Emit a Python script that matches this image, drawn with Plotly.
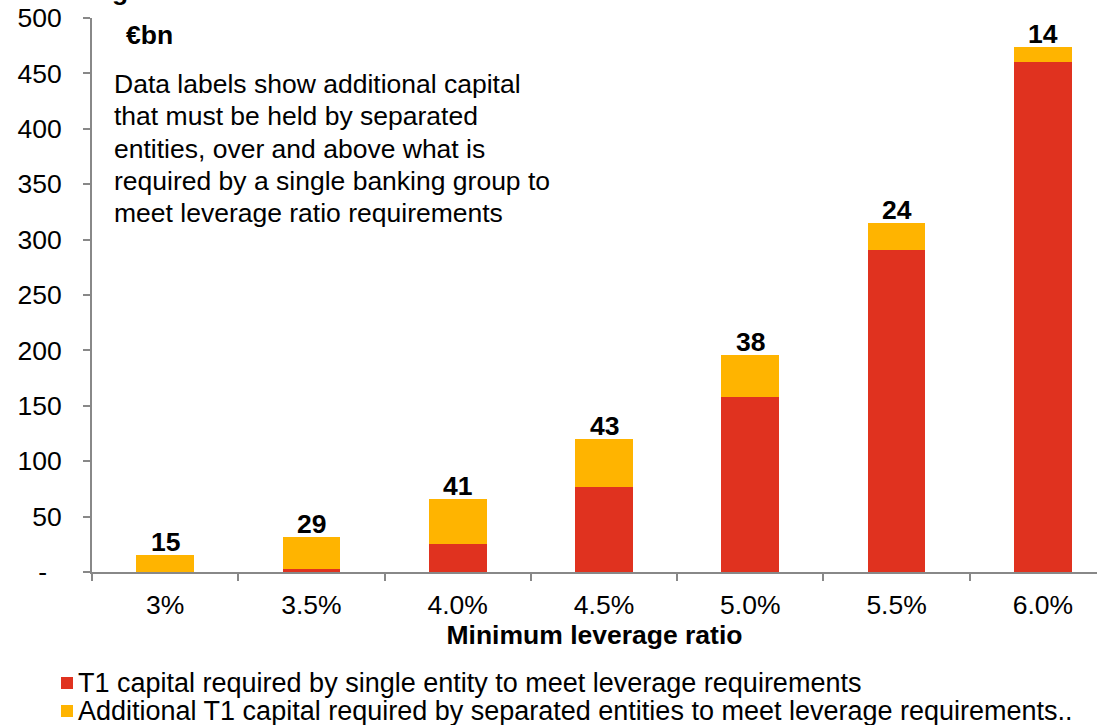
import plotly.graph_objects as go

# Minimum leverage ratio scenarios
categories = ["3%", "3.5%", "4.0%", "4.5%", "5.0%", "5.5%", "6.0%"]
# T1 capital required by a single entity (EUR bn)
single_entity = [0, 3, 25, 77, 158, 291, 460]
# Additional T1 capital required by separated entities (EUR bn)
additional = [15, 29, 41, 43, 38, 24, 14]

series_names = [
    "T1 capital required by single entity to meet leverage requirements",
    "Additional T1 capital required by separated entities to meet leverage requirements..",
]

note_lines = [
    "Data labels show additional capital",
    "that must be held by separated",
    "entities, over and above what is",
    "required by a single banking group to",
    "meet leverage ratio requirements",
]

y_tickvals = [0, 50, 100, 150, 200, 250, 300, 350, 400, 450, 500]
y_ticktext = ["-\u00a0\u00a0", "50", "100", "150", "200", "250", "300",
              "350", "400", "450", "500"]

RED = "#E0321F"
YELLOW = "#FFB400"
FONT = "Liberation Sans, Arial, sans-serif"
FS = 26.5

# plot-area geometry in pixels (used to place the notes and key)
W, H = 1097, 725
M_L, M_R, M_T, M_B = 92, 0, 18, 153
PW, PH = W - M_L - M_R, H - M_T - M_B


def px_to_paper(xp, yp):
    return (xp - M_L) / PW, (H - M_B - yp) / PH


fig = go.Figure()
for vals, name, col in zip([single_entity, additional], series_names, [RED, YELLOW]):
    fig.add_trace(go.Bar(
        x=categories, y=vals, name=name,
        marker=dict(color=col, line=dict(width=0)), width=0.395,
        showlegend=False,
    ))

# value labels above each stack
totals = [a + b for a, b in zip(single_entity, additional)]
for cat, tot, add in zip(categories, totals, additional):
    fig.add_annotation(x=cat, y=tot, text=f"<b>{add}</b>", showarrow=False,
                       yanchor="bottom", yshift=-4,
                       font=dict(family=FONT, size=FS, color="black"))

# chart heading (only its lowest part falls inside the page)
hx, hy = px_to_paper(110, 8)
fig.add_annotation(xref="paper", yref="paper", x=hx, y=hy, xanchor="left", yanchor="bottom",
                   text="<b>g</b>", showarrow=False,
                   font=dict(family=FONT, size=FS, color="black"))

ux, uy = px_to_paper(124, 35)
fig.add_annotation(xref="paper", yref="paper", x=ux, y=uy, xanchor="left", yanchor="middle",
                   text="<b>€bn</b>", showarrow=False,
                   font=dict(family=FONT, size=FS, color="black"))

for i, line in enumerate(note_lines):
    nx, ny = px_to_paper(112, 84 + 32.25 * i)
    fig.add_annotation(xref="paper", yref="paper", x=nx, y=ny, xanchor="left", yanchor="middle",
                       align="left", showarrow=False, text=line,
                       font=dict(family=FONT, size=FS, color="black"))

# key below the chart: coloured square followed by the series name
for i, (name, col) in enumerate(zip(series_names, [RED, YELLOW])):
    cy = 683 + 28 * i
    x0, y0 = px_to_paper(61, cy + 6)
    x1, y1 = px_to_paper(73, cy - 6)
    fig.add_shape(type="rect", xref="paper", yref="paper", x0=x0, x1=x1, y0=y0, y1=y1,
                  fillcolor=col, line=dict(width=0))
    tx, ty = px_to_paper(76, cy)
    fig.add_annotation(xref="paper", yref="paper", x=tx, y=ty, xanchor="left", yanchor="middle",
                       text=name, showarrow=False,
                       font=dict(family=FONT, size=27, color="black"))

fig.update_layout(
    barmode="stack",
    width=W, height=H,
    margin=dict(l=M_L, r=M_R, t=M_T, b=M_B, autoexpand=False),
    paper_bgcolor="white", plot_bgcolor="white",
    font=dict(family=FONT, size=FS, color="black"),
    showlegend=False,
    xaxis=dict(
        type="category", range=[-0.5, 6.37],
        showline=True, linecolor="#888888", linewidth=2,
        ticks="outside", tickson="boundaries", ticklen=7, tickcolor="#888888", tickwidth=2,
        tickfont=dict(family=FONT, size=FS), ticklabelstandoff=8,
        title=dict(text="<b>Minimum leverage ratio</b>", font=dict(family=FONT, size=FS), standoff=4),
    ),
    yaxis=dict(
        range=[0, 500], tickvals=y_tickvals, ticktext=y_ticktext,
        showline=True, linecolor="#888888", linewidth=2, showgrid=False, zeroline=False,
        ticks="outside", ticklen=7, tickcolor="#888888", tickwidth=2,
        tickfont=dict(family=FONT, size=FS), ticklabelstandoff=16,
    ),
)

fig.write_html("out.html")
